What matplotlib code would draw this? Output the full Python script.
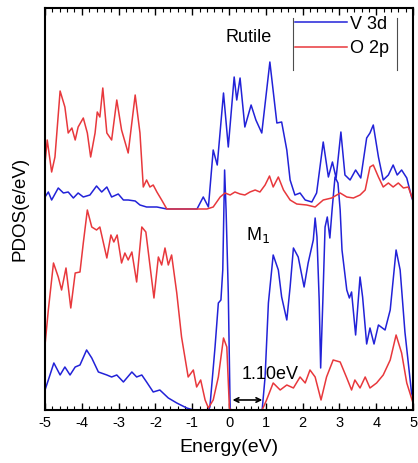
import numpy as np
import matplotlib
matplotlib.use('Agg')
import matplotlib.pyplot as plt

plt.rcParams['font.family'] = ['Liberation Sans', 'DejaVu Sans']

# Rutile (upper panel), heights above its own baseline
rut_o2p_e = [-5.00, -4.94, -4.82, -4.73, -4.59, -4.46, -4.37, -4.27, -4.18, -4.10,
             -3.96, -3.85, -3.76, -3.64, -3.58, -3.51, -3.43, -3.32, -3.19, -3.05,
             -2.92, -2.74, -2.55, -2.42, -2.33, -2.24, -2.15, -2.06, -1.96, -1.83,
             -1.69, -0.60, -0.43, -0.24, -0.11, 0.03, 0.16, 0.30, 0.43, 0.57,
             0.71, 0.84, 0.98, 1.10, 1.20, 1.34, 1.48, 1.66, 1.84, 2.11,
             2.34, 2.56, 2.79, 3.02, 3.20, 3.38, 3.56, 3.70, 3.83, 3.92,
             4.06, 4.19, 4.33, 4.46, 4.60, 4.74, 4.87, 5.00]
rut_o2p = [46, 69, 37, 52, 118, 102, 76, 81, 69, 82,
           91, 76, 52, 76, 97, 92, 121, 76, 69, 109,
           79, 56, 114, 76, 22, 29, 22, 24, 17, 9,
           0, 0, 2, 12, 16, 14, 17, 15, 14, 17,
           19, 17, 24, 33, 22, 32, 19, 9, 5, 4,
           2, 9, 11, 16, 12, 11, 14, 19, 42, 44,
           32, 22, 26, 22, 26, 21, 22, 9]

rut_v3d_e = [-5.00, -4.91, -4.82, -4.64, -4.50, -4.37, -4.23, -4.10, -3.96, -3.78,
             -3.60, -3.46, -3.32, -3.19, -3.01, -2.87, -2.74, -2.55, -2.42, -2.24,
             -1.96, -1.69, -0.87, -0.70, -0.56, -0.43, -0.32, -0.15, -0.02, 0.14,
             0.21, 0.30, 0.43, 0.60, 0.73, 0.89, 1.11, 1.30, 1.43, 1.57,
             1.66, 1.79, 1.93, 2.07, 2.25, 2.38, 2.56, 2.70, 2.81, 2.91,
             3.04, 3.15, 3.29, 3.44, 3.58, 3.74, 3.83, 3.92, 4.06, 4.19,
             4.33, 4.46, 4.57, 4.69, 4.83, 4.96, 5.00]
rut_v3d = [12, 17, 9, 21, 16, 17, 11, 16, 12, 14,
           23, 17, 22, 12, 15, 9, 9, 8, 4, 2,
           2, 0, 0, 12, 2, 59, 44, 116, 62, 132,
           109, 131, 82, 104, 89, 76, 147, 86, 87, 59,
           29, 14, 16, 9, 7, 16, 67, 32, 47, 31,
           77, 34, 29, 39, 31, 71, 76, 84, 52, 29,
           34, 44, 34, 39, 31, 12, 8]

# M1 (lower panel)
m1_o2p_e = [-5.00, -4.91, -4.77, -4.64, -4.55, -4.43, -4.30, -4.18, -4.05, -3.96,
            -3.85, -3.73, -3.60, -3.51, -3.32, -3.21, -3.13, -3.04, -2.92, -2.83,
            -2.74, -2.64, -2.51, -2.37, -2.26, -2.04, -1.92, -1.83, -1.74, -1.65,
            -1.56, -1.42, -1.29, -1.20, -1.11, -0.97, -0.88, -0.77, -0.65, -0.56,
            -0.43, -0.29, -0.15, -0.06, 0.01, 0.05, 0.90, 1.02, 1.20, 1.39,
            1.57, 1.75, 1.93, 2.07, 2.20, 2.34, 2.50, 2.65, 2.83, 3.02,
            3.20, 3.33, 3.42, 3.56, 3.70, 3.83, 4.01, 4.19, 4.38, 4.54,
            4.69, 4.83, 5.00]
m1_o2p = [65, 100, 147, 133, 120, 142, 102, 137, 138, 167,
          200, 183, 180, 183, 152, 175, 168, 175, 147, 157,
          150, 158, 128, 183, 178, 112, 153, 145, 162, 145,
          155, 117, 73, 53, 33, 40, 23, 30, 10, 2,
          10, 33, 72, 63, 2, 0, 0, 10, 27, 20,
          25, 22, 33, 27, 40, 33, 10, 33, 50, 48,
          32, 20, 30, 22, 33, 22, 27, 35, 50, 75,
          57, 27, 7]

m1_v3d_e = [-5.00, -4.91, -4.76, -4.59, -4.46, -4.32, -4.18, -4.05, -3.87, -3.73,
            -3.55, -3.32, -3.19, -3.05, -2.87, -2.64, -2.51, -2.37, -2.24, -2.06,
            -1.88, -1.65, -1.42, -1.15, -0.97, -0.56, -0.52, -0.38, -0.29, -0.22,
            -0.17, -0.12, -0.08, -0.02, 0.03, 0.05, 0.90, 0.98, 1.07, 1.20,
            1.34, 1.43, 1.57, 1.66, 1.75, 1.88, 2.04, 2.15, 2.29, 2.34,
            2.39, 2.45, 2.49, 2.55, 2.61, 2.67, 2.74, 2.80, 2.88, 2.96,
            3.02, 3.07, 3.20, 3.27, 3.33, 3.44, 3.56, 3.63, 3.74, 3.83,
            3.94, 4.06, 4.24, 4.38, 4.54, 4.65, 4.78, 4.96, 5.00]
m1_v3d = [20, 30, 47, 35, 43, 35, 43, 45, 60, 52,
          38, 35, 33, 35, 28, 38, 33, 35, 28, 18,
          20, 12, 7, 2, 0, 0, 3, 63, 107, 110,
          140, 240, 200, 117, 2, 0, 0, 33, 107, 155,
          140, 113, 90, 123, 162, 153, 123, 147, 170, 192,
          173, 110, 42, 110, 183, 193, 172, 200, 233, 227,
          200, 160, 120, 112, 118, 75, 133, 113, 66, 82,
          66, 85, 80, 100, 160, 140, 78, 17, 12]

offset = 201
blue = '#2222d8'
red = '#e8383c'

fig = plt.figure(figsize=(4.18, 4.63), dpi=100)
ax = fig.add_axes([0.1077, 0.1145, 0.8804, 0.8682])

ax.plot(m1_v3d_e, m1_v3d, color=blue, lw=1.1)
ax.plot(rut_v3d_e, np.array(rut_v3d) + offset, color=blue, lw=1.1, label='V 3d')
ax.plot(m1_o2p_e, m1_o2p, color=red, lw=1.1)
ax.plot(rut_o2p_e, np.array(rut_o2p) + offset, color=red, lw=1.1, label='O 2p')

ax.set_xlim(-5, 5)
ax.set_ylim(0, 402)
ax.set_xticks(np.arange(-5, 6, 1))
ax.set_xticklabels([str(v) for v in range(-5, 6)])
ax.set_xticks(np.arange(-5, 5.01, 0.2), minor=True)
ax.set_yticks([])
ax.tick_params(axis='x', which='major', direction='in', top=True, length=5, width=1,
               labelsize=10.5, pad=4)
ax.tick_params(axis='x', which='minor', direction='in', top=True, length=3, width=0.8)
for s in ax.spines.values():
    s.set_linewidth(1.5)

ax.set_xlabel('Energy(eV)', fontsize=14, labelpad=7)
ax.set_ylabel('PDOS(e/eV)', fontsize=13.5, labelpad=12)

ax.text(0.52, 373, 'Rutile', fontsize=13, ha='center', va='center')
ax.text(0.79, 175, 'M$_1$', fontsize=13, ha='center', va='center')
ax.annotate('', xy=(0.02, 10), xytext=(0.98, 10),
            arrowprops=dict(arrowstyle='<->', color='k', lw=1.2, mutation_scale=8))
ax.text(1.12, 35, '1.10eV', fontsize=13, ha='center', va='center')

leg = ax.legend(loc='upper left', bbox_to_anchor=(0.669, 0.99), frameon=False,
                fontsize=13, handlelength=2.9, handletextpad=0.15, labelspacing=0.4,
                borderpad=0.2, borderaxespad=0)
# thin vertical bars on each side of the legend, as in the original
ax.plot([0.674, 0.674], [0.846, 0.975], color='0.3', lw=0.8, transform=ax.transAxes)
ax.plot([0.957, 0.957], [0.846, 0.975], color='0.3', lw=0.8, transform=ax.transAxes)

fig.savefig('out.png', dpi=100)
